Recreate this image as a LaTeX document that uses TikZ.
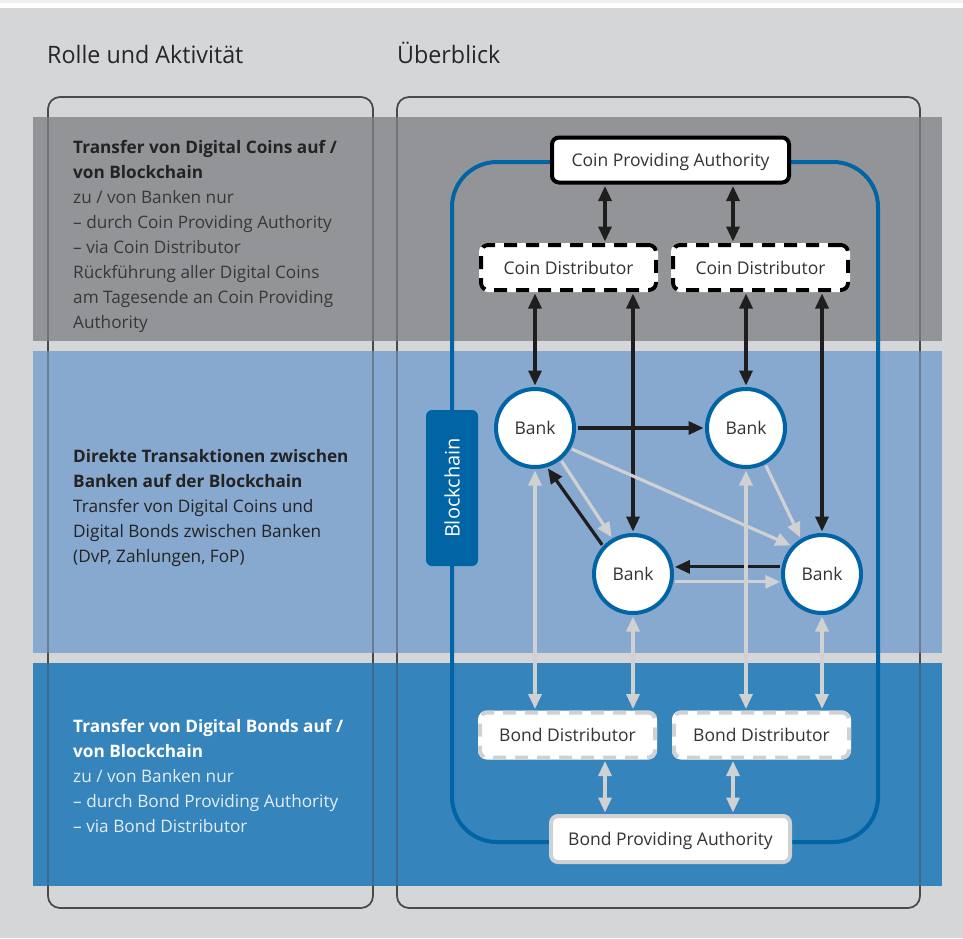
\documentclass[tikz,border=0pt]{standalone}
\usepackage{fontspec}
\setmainfont{Open Sans}
\newfontfamily\headfont[FakeStretch=0.97]{Open Sans}
\usetikzlibrary{arrows.meta,calc}
\definecolor{bg}{HTML}{D5D6D8}
\definecolor{bandA}{HTML}{939497}
\definecolor{bandB}{HTML}{87A8CF}
\definecolor{bandC}{HTML}{3584BB}
\definecolor{bcblue}{HTML}{0064A5}
\definecolor{lgray}{HTML}{D0D1D3}
\definecolor{dgray}{HTML}{1E1E1E}
\definecolor{frame}{HTML}{4A4A4A}
\definecolor{txtA}{HTML}{232323}
\definecolor{txtAr}{HTML}{383838}
\definecolor{txtC}{HTML}{E4EDF6}
\definecolor{ntext}{HTML}{333333}
\begin{document}
\begin{tikzpicture}[x=1pt,y=-1pt,
  >={Triangle[length=15pt,width=13pt]},
  heading/.style={anchor=base west,inner sep=0,font=\headfont\fontsize{24}{28}\selectfont,text=black!85},
  lefttext/.style={anchor=north west,inner sep=0,align=left,font=\fontsize{17.2}{25}\selectfont},
  outline/.style={draw=frame,line width=1.6pt,rounded corners=12pt},
  bankc/.style={circle,draw=bcblue,line width=4pt,fill=white,minimum size=78pt,inner sep=0,text=ntext,font=\fontsize{17.5}{20}\selectfont},
  boxbase/.style={rectangle,rounded corners=7pt,line width=4pt,fill=white,text=ntext,font=\fontsize{17.5}{20}\selectfont,minimum height=45pt},
  cauth/.style={boxbase,draw=black,minimum width=237pt,text depth=1pt},
  cdist/.style={boxbase,draw=black,minimum width=175pt,dash pattern=on 13pt off 9pt,preaction={draw=white,solid}},
  bauth/.style={boxbase,draw=lgray,minimum width=239pt,minimum height=46pt,text depth=1pt},
  bdist/.style={boxbase,draw=lgray,minimum width=175pt,dash pattern=on 13pt off 9pt,preaction={draw=white,solid}},
  blk/.style={draw=dgray,line width=3.2pt,shorten <=1.5pt,shorten >=1.5pt},
  lgt/.style={draw=lgray,line width=3.2pt,shorten <=1.5pt,shorten >=1.5pt},
]
\useasboundingbox (0,0) rectangle (963,938);
% background
\fill[bg] (0,0) rectangle (963,938);
\fill[white] (0,3) rectangle (963,8);
\fill[black!6] (0,0) rectangle (963,3);
% headings
\node[heading] (h1) at (47,63) {Rolle und Aktivität};
\node[heading] (h2) at (397,63) {Überblick};
% outline boxes (outside bands)
\draw[outline] (48,97) rectangle (373,908);
\draw[outline] (397,97) rectangle (920,908);
% bands
\fill[bandA] (33,117) rectangle (942,341);
\fill[bandB] (33,351) rectangle (942,653);
\fill[bandC] (33,663) rectangle (942,886);
% outline boxes seen through bands
\draw[outline,draw opacity=0.45] (48,97) rectangle (373,908);
\draw[outline,draw opacity=0.45] (397,97) rectangle (920,908);
% left texts
\node[lefttext,text=txtA] (t1) at (73,140) {\textbf{Transfer von Digital Coins auf /}\\\textbf{von Blockchain}\\{\color{txtAr}zu / von Banken nur}\\{\color{txtAr}– durch Coin Providing Authority}\\{\color{txtAr}– via Coin Distributor}\\{\color{txtAr}Rückführung aller Digital Coins}\\{\color{txtAr}am Tagesende an Coin Providing}\\{\color{txtAr}Authority}};
\node[lefttext,text=txtA] (t2) at (73,449.5) {\textbf{Direkte Transaktionen zwischen}\\\textbf{Banken auf der Blockchain}\\Transfer von Digital Coins und\\Digital Bonds zwischen Banken\\(DvP, Zahlungen, FoP)};
\node[lefttext,text=white] (t3) at (73,719.5) {\textbf{Transfer von Digital Bonds auf /}\\\textbf{von Blockchain}\\{\color{txtC}zu / von Banken nur}\\{\color{txtC}– durch Bond Providing Authority}\\{\color{txtC}– via Bond Distributor}};
% blockchain loop
\draw[bcblue,line width=4pt,rounded corners=45pt] (452,162) rectangle (878,842);
\node[rectangle,rounded corners=6pt,fill=bcblue,minimum width=156pt,minimum height=52pt,rotate=90,text=white,font=\fontsize{20}{24}\selectfont] (bc) at (452,488) {Blockchain};
% nodes
\node[cauth] (cpa) at (670.5,160) {Coin Providing Authority};
\node[cdist] (cdl) at (568.5,267.5) {Coin Distributor};
\node[cdist] (cdr) at (760.5,267.5) {Coin Distributor};
\node[bankc] (b1) at (535,428) {Bank};
\node[bankc] (b2) at (746,428) {Bank};
\node[bankc] (b3) at (633,574) {Bank};
\node[bankc] (b4) at (822,574) {Bank};
\node[bdist] (bdl) at (567.5,735) {Bond Distributor};
\node[bdist] (bdr) at (761.5,735) {Bond Distributor};
\node[bauth] (bpa) at (670.5,839) {Bond Providing Authority};
% coordinates for authority links
\coordinate (x1) at (605,0);
\coordinate (x2) at (733,0);
% coin arrows
\draw[blk,<->] (x1 |- cpa.south) -- (x1 |- cdl.north);
\draw[blk,<->] (x2 |- cpa.south) -- (x2 |- cdr.north);
\draw[blk,<->] (b1 |- cdl.south) -- (b1.north);
\draw[blk,<->] (b3 |- cdl.south) -- (b3.north);
\draw[blk,<->] (b2 |- cdr.south) -- (b2.north);
\draw[blk,<->] (b4 |- cdr.south) -- (b4.north);
% bank to bank
\draw[blk,->] (b1.east) -- (b2.west);
\draw[blk,->] (b3.137) -- (b1.-73);
\draw[blk,->] (b4.170) -- (b3.10);
\draw[lgt,->] (b1.-51) -- (b3.120);
\draw[lgt,->] (b1.-30) -- (b4.137);
\draw[lgt,->] (b2.-62) -- (b4.121);
\draw[lgt,->] (b3.-11) -- (b4.191);
% bond arrows
\draw[lgt,<->] (b1.south) -- (b1 |- bdl.north);
\draw[lgt,<->] (b3.south) -- (b3 |- bdl.north);
\draw[lgt,<->] (b2.south) -- (b2 |- bdr.north);
\draw[lgt,<->] (b4.south) -- (b4 |- bdr.north);
\draw[lgt,<->] (x1 |- bdl.south) -- (x1 |- bpa.north);
\draw[lgt,<->] (x2 |- bdr.south) -- (x2 |- bpa.north);
\end{tikzpicture}
\end{document}
